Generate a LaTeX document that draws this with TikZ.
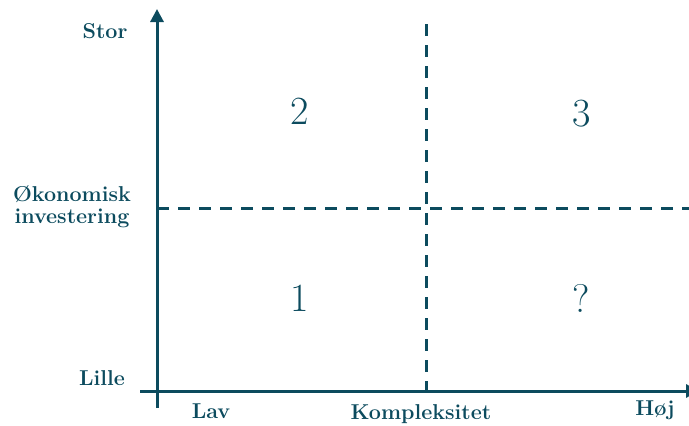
\documentclass[tikz,border=0pt]{standalone}
\usetikzlibrary{arrows.meta}
\definecolor{teal1}{RGB}{12,75,94}
\begin{document}
\begin{tikzpicture}[x=1pt,y=-1pt,
  axis/.style={draw=teal1,line width=3pt},
  dashline/.style={draw=teal1,line width=3pt,dash pattern=on 12pt off 9pt},
  lbl/.style={text=teal1,font=\fontsize{21.5}{22}\selectfont\bfseries,inner sep=0pt},
  num/.style={text=teal1,font=\fontsize{40}{42}\selectfont,inner sep=0pt}]
\useasboundingbox (0,0) rectangle (689,426);
\coordinate (ybot) at (157,408);
\coordinate (ytop) at (157,9);
\coordinate (xl) at (140,391);
\coordinate (xr) at (699,391);
\coordinate (vt) at (426,24);
\coordinate (vb) at (426,391);
\coordinate (hl) at (157,208);
\coordinate (hr) at (689,208);
\draw[dashline] (vt) -- (vb);
\draw[dashline] (hl) -- (hr);
\draw[axis,-{Triangle[length=13pt,width=13pt]}] (ybot) -- (ytop);
\draw[axis,-{Triangle[length=13pt,width=13pt]}] (xl) -- (xr);
\node[lbl] (stor) at (105,31) {Stor};
\node[lbl,align=center] (oko) at (72,207) {Økonomisk\\investering};
\node[lbl] (lille) at (102,378) {Lille};
\node[lbl] (lav) at (211,411) {Lav};
\node[lbl] (komp) at (421,414) {Kompleksitet};
\node[lbl] (hoj) at (655,410) {Høj};
\node[num] (n2) at (300,111) {2};
\node[num] (n3) at (582,114) {3};
\node[num] (n1) at (300,298) {1};
\node[num] (nq) at (581,298) {?};
\end{tikzpicture}
\end{document}
